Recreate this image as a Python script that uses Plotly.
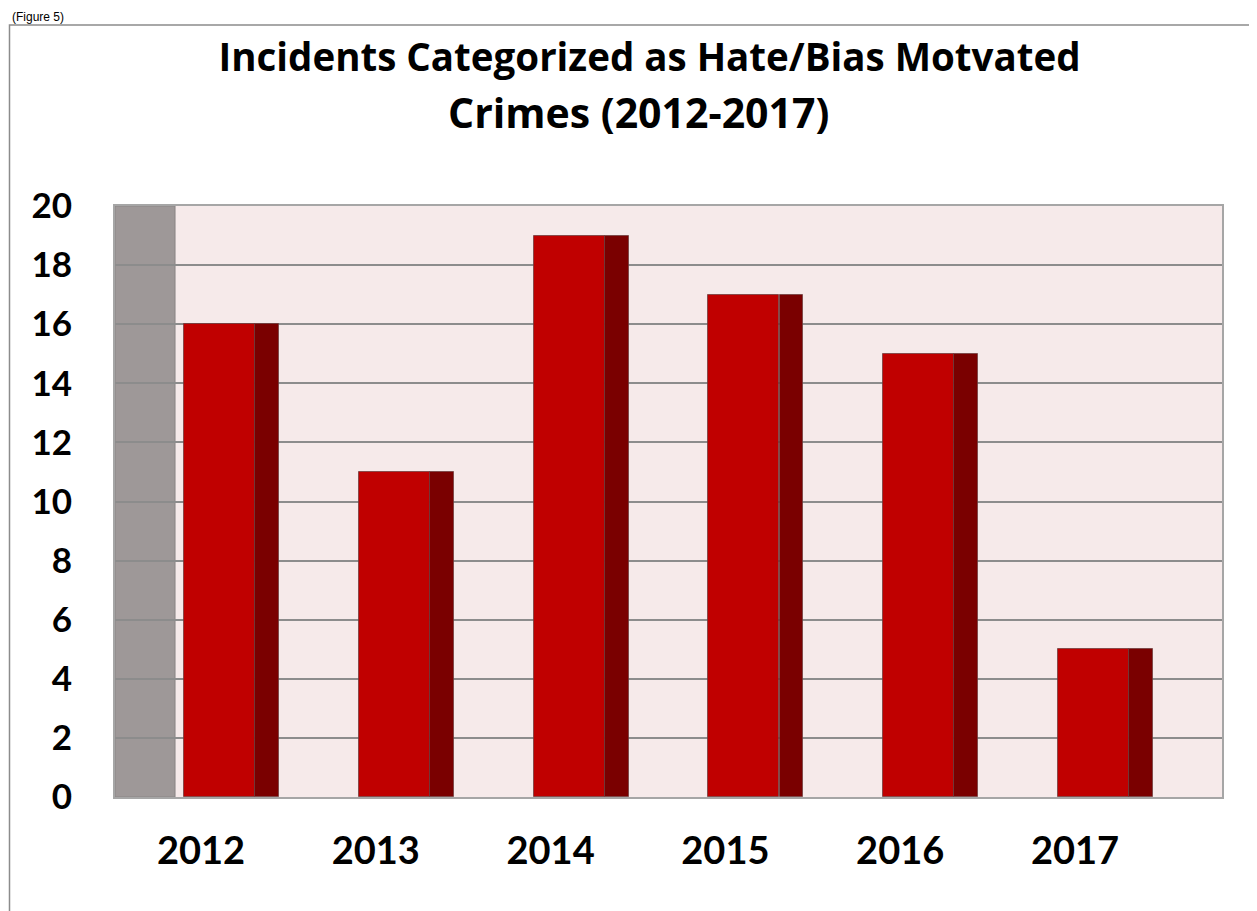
import plotly.graph_objects as go

years = ["2012", "2013", "2014", "2015", "2016", "2017"]
incidents = [16, 11, 19, 17, 15, 5]
y_ticks = [0, 2, 4, 6, 8, 10, 12, 14, 16, 18, 20]
title_line1 = "Incidents Categorized as Hate/Bias Motvated"
title_line2 = "Crimes (2012-2017)"

FRONT = "#C00000"
SIDE = "#7A0000"
EDGE = "rgba(110,60,60,0.75)"
TICK_FONT = "Lato"
TITLE_FONT = "Open Sans"

# layout geometry in category units
front_w = 0.406
side_w = 0.137
side_off = 0.272
label_off = -0.106
x_range = [-0.598, 5.735]
wall_right = -0.2546

idx = list(range(len(years)))

fig = go.Figure()
fig.add_trace(go.Bar(
    x=idx, y=incidents, width=front_w,
    marker=dict(color=FRONT, line=dict(color=EDGE, width=1)),
    hoverinfo="skip", showlegend=False,
))
fig.add_trace(go.Bar(
    x=[i + side_off for i in idx], y=incidents, width=side_w,
    marker=dict(color=SIDE, line=dict(color=EDGE, width=1)),
    hoverinfo="skip", showlegend=False,
))

# figure pixel geometry (page is offset by 8px body margin)
W, H = 1249, 903
L, T = 107, 198
R = W - 1214
B = H - 789
pw, ph = W - L - R, H - T - B


def px_x(p):
    return (p - L) / pw


def px_y(p):
    return (H - B - p) / ph


# grey side wall
fig.add_shape(type="rect", xref="x", yref="y", x0=x_range[0], x1=wall_right,
              y0=0, y1=20, fillcolor="#9E9898",
              line=dict(color="#8a8686", width=1), layer="below")
# outer chart border
fig.add_shape(type="rect", xref="paper", yref="paper",
              x0=px_x(1.5), x1=px_x(1300), y0=px_y(1000), y1=px_y(17),
              line=dict(color="#8c8c8c", width=1.5), fillcolor="rgba(0,0,0,0)",
              layer="below")

fig.add_annotation(text="(Figure 5)", xref="paper", yref="paper",
                   x=px_x(3), y=px_y(1), xanchor="left", yanchor="top",
                   showarrow=False, borderpad=0,
                   font=dict(family="Liberation Sans", size=12, color="#000"))

# second title line
fig.add_annotation(text=title_line2, xref="paper", yref="paper",
                   x=px_x(630), y=px_y(104), xanchor="center", yanchor="middle",
                   showarrow=False, borderpad=0,
                   font=dict(family=TITLE_FONT, size=41, color="black", weight="bold"))

fig.update_layout(
    width=W, height=H,
    margin=dict(l=L, r=R, t=T, b=B, autoexpand=False),
    paper_bgcolor="white",
    plot_bgcolor="#F6EAEA",
    barmode="overlay",
    bargap=0,
    title=dict(
        text=title_line1,
        x=641.5 / W, xanchor="center", xref="container",
        y=1 - 50 / H, yanchor="middle", yref="container",
        font=dict(family=TITLE_FONT, size=38.5, color="black", weight="bold"),
    ),
    xaxis=dict(
        range=x_range, tickmode="array",
        tickvals=[i + label_off for i in idx], ticktext=years,
        showgrid=False, zeroline=False,
        showline=True, mirror=True, linecolor="#A6A6A6", linewidth=2,
        ticks="", ticklabelstandoff=19,
        tickfont=dict(family=TICK_FONT, size=38, color="black", weight="bold"),
        fixedrange=True,
    ),
    yaxis=dict(
        range=[0, 20], tickmode="array", tickvals=y_ticks,
        showgrid=True, gridcolor="#8C8C8C", gridwidth=2,
        zeroline=False,
        showline=True, mirror=True, linecolor="#A6A6A6", linewidth=2,
        ticks="", ticklabelstandoff=34,
        tickfont=dict(family=TICK_FONT, size=35, color="black", weight="bold"),
        fixedrange=True,
    ),
)

fig.write_html("out.html")
